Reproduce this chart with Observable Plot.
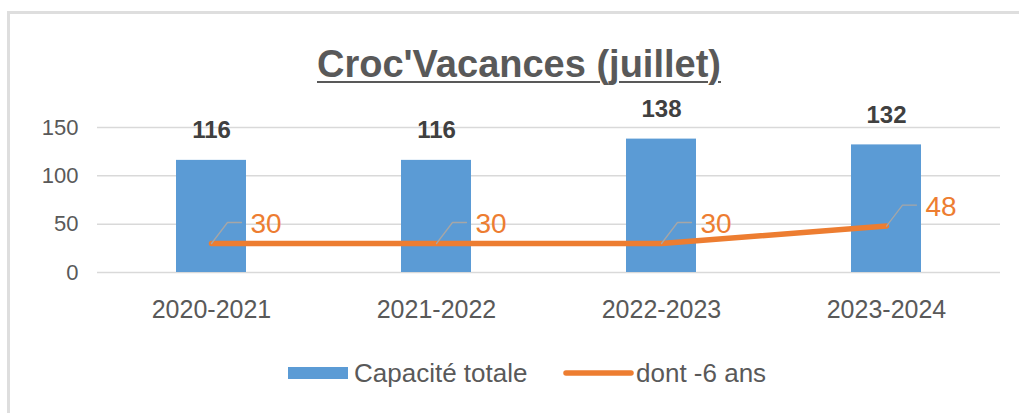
<!DOCTYPE html>
<html>
<head>
<meta charset="utf-8">
<script src="https://cdn.jsdelivr.net/npm/d3@7"></script>
<script src="https://cdn.jsdelivr.net/npm/@observablehq/plot@0.6"></script>
<style>
  html, body { margin: 0; padding: 0; background: #fff; }
  #wrap { position: relative; width: 1019px; height: 413px; overflow: hidden; background: #fff;
          font-family: "Liberation Sans", Arial, sans-serif; color: #595959; }
  #frame { position: absolute; left: 7px; top: 11px; width: 1040px; height: 440px;
           border: 3px solid #dedede; box-sizing: border-box; }
  #title { position: absolute; left: 0; width: 1038px; top: 45px; text-align: center;
           font-size: 38px; line-height: 38px; font-weight: bold; color: #595959;
           text-decoration: underline; text-decoration-thickness: 2px; text-underline-offset: 4px; }
  #chart { position: absolute; left: 0; top: 95px; }
  #legend { position: absolute; left: 0; top: 356px; width: 1019px; height: 34px; }
  .lg { position: absolute; font-size: 26px; line-height: 34px; top: 0; color: #595959; white-space: nowrap; }
  .sw { position: absolute; }
</style>
</head>
<body>
<div id="wrap">
  <div id="frame"></div>
  <div id="title">Croc'Vacances (juillet)</div>
  <div id="chart"></div>
  <div id="legend"></div>
</div>
<script>
// ---- data ----
const years = ["2020-2021", "2021-2022", "2022-2023", "2023-2024"];
const capaciteTotale = [116, 116, 138, 132];
const moins6ans = [30, 30, 30, 48];
const yTicks = [0, 50, 100, 150];
const seriesNames = ["Capacité totale", "dont -6 ans"];

const colors = { bar: "#5B9BD5", line: "#ED7D31", text: "#595959", grid: "#d9d9d9", label: "#404040", leader: "#a6a6a6" };

const barData = years.map((y, i) => ({ year: y, value: capaciteTotale[i] }));
const lineData = years.map((y, i) => ({ year: y, value: moins6ans[i] }));

// leader line shape for the orange data labels
const leaderShape = {
  draw(context) {
    context.moveTo(0, 0);
    context.lineTo(16, -21);
    context.lineTo(30, -21);
  }
};

const chart = Plot.plot({
  width: 1019,
  height: 240,
  marginLeft: 97,
  marginRight: 19,
  marginTop: 32,
  marginBottom: 63,
  style: { fontFamily: "Liberation Sans, Arial, sans-serif", color: colors.text, background: "transparent" },
  x: { domain: years, paddingInner: 0.69, paddingOuter: 0.345 },
  y: { domain: [0, 150] },
  marks: [
    Plot.gridY(yTicks, { stroke: colors.grid, strokeOpacity: 1, strokeWidth: 1.5 }),
    Plot.axisY(yTicks, { tickSize: 0, tickPadding: 19, fontSize: 22, fill: colors.text, label: null }),
    Plot.axisX({ tickSize: 0, tickPadding: 28, fontSize: 25, fill: colors.text, label: null }),
    Plot.barY(barData, { x: "year", y: "value", fill: colors.bar, inset: 0 }),
    Plot.line(lineData, { x: "year", y: "value", stroke: colors.line, strokeWidth: 5.5, strokeLinecap: "round", strokeLinejoin: "round" }),
    Plot.vector(lineData, { x: "year", y: "value", length: 1, anchor: "start", shape: leaderShape, stroke: colors.leader, strokeWidth: 1.3 }),
    Plot.text(lineData, { x: "year", y: "value", text: d => String(d.value), dx: 39, dy: -19, textAnchor: "start", fontSize: 28, fill: colors.line }),
    Plot.text(barData, { x: "year", y: "value", text: d => String(d.value), dy: -30, fontSize: 24, fontWeight: "bold", fill: colors.label })
  ]
});
document.getElementById("chart").appendChild(chart);

// ---- legend ----
const legend = document.getElementById("legend");
legend.innerHTML = `
  <svg class="sw" style="left:288px;top:11px" width="60" height="12"><rect width="60" height="12" fill="${colors.bar}"/></svg>
  <span class="lg" style="left:354px">${seriesNames[0]}</span>
  <svg class="sw" style="left:563px;top:11px" width="71" height="12"><line x1="3" y1="6" x2="68" y2="6" stroke="${colors.line}" stroke-width="5.5" stroke-linecap="round"/></svg>
  <span class="lg" style="left:636px">${seriesNames[1]}</span>
`;
</script>
</body>
</html>
